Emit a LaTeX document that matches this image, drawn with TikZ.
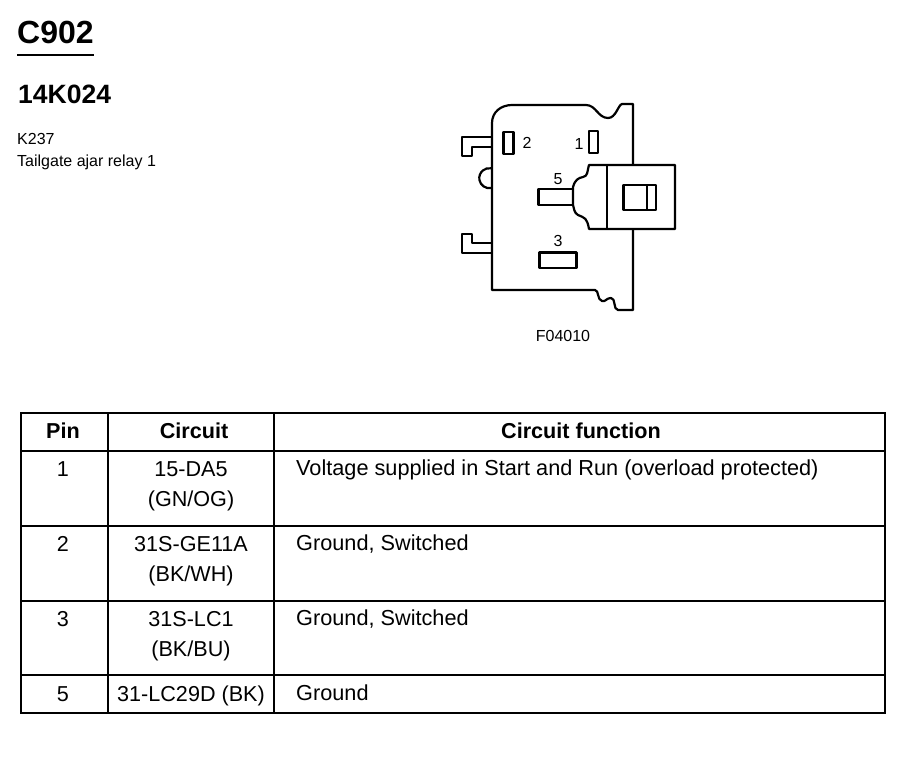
\documentclass[tikz,border=0pt]{standalone}
\usepackage{fontspec}
\setmainfont{Liberation Sans}
\begin{document}
\begin{tikzpicture}[x=1pt, y=-1pt,
    every node/.style={inner sep=0pt, text=black},
    title/.style={anchor=base west, font=\bfseries\fontsize{32}{32}\selectfont},
    subtitle/.style={anchor=base west, font=\bfseries\fontsize{26.5}{26.5}\selectfont},
    small/.style={anchor=base west, font=\fontsize{16}{16}\selectfont},
    pinlabel/.style={anchor=base, font=\fontsize{16}{16}\selectfont},
    head/.style={anchor=base, font=\bfseries\fontsize{21.6}{21.6}\selectfont},
    cell/.style={anchor=base, font=\fontsize{21.6}{21.6}\selectfont},
    func/.style={anchor=base west, font=\fontsize{21.7}{21.7}\selectfont},
    rule/.style={line width=2pt, line cap=rect},
    part/.style={line width=2.2pt, line join=round}]
  \useasboundingbox (0,0) rectangle (902,768);
  \node [title] (c902) at (17,44) {C902};
  \node [subtitle] (part) at (18,103) {14K024};
  \node [small] (k237) at (17,144) {K237};
  \node [small] (relay) at (17,166) {Tailgate ajar relay 1};
  \draw [line width=1.2pt] (17,55) -- (94,55);
  \draw [part] (633,165) -- (633,104) -- (622,104) .. controls (618,105) and (616,118) .. (608,118)
     .. controls (598,118) and (596,105) .. (586,105) -- (512,105) .. controls (501,105) and (492,112) .. (492,123)
     -- (492,290) -- (595,290) .. controls (599,290) and (597,300) .. (602,301)
     .. controls (606,302) and (606,298) .. (611,298) .. controls (616,298) and (613,310) .. (618,310)
     -- (633,310) -- (633,229);
  \draw [part] (491,137) -- (462,137) -- (462,156) -- (472,156) -- (472,147) -- (491,147);
  \draw [part] (491,243) -- (472,243) -- (472,234) -- (462,234) -- (462,253) -- (491,253);
  \draw [part] (491,188) arc [start angle=80, end angle=280, radius=10];
  \draw [part] (589,165) -- (675,165) -- (675,229) -- (589,229) .. controls (587,218) and (585,218) .. (578,215)
     .. controls (574,213) and (574,208) .. (573,205) -- (573,187) .. controls (575,180) and (578,178) .. (583,177)
     .. controls (588,176) and (587,172) .. (589,165) -- cycle;
  \draw [part] (607,165) -- (607,229);
  \draw [part] (538.5,189) rectangle (573,205);
  \draw [part] (623.5,185) rectangle (656,210);
  \draw [part] (647,185) -- (647,210);
  \draw [part] (503.5,132) rectangle (513.5,154);
  \draw [part] (589,131) rectangle (598,153);
  \draw [part] (539.5,252.5) rectangle (576.5,268);
  \node [pinlabel] (pin2) at (527,148) {2};
  \node [pinlabel] (pin1) at (579,149) {1};
  \node [pinlabel] (pin5) at (558,184) {5};
  \node [pinlabel] (pin3) at (558,246) {3};
  \node [small, anchor=base] (fig) at (563,341) {F04010};
  \draw [rule] (21,413) rectangle (885,713);
  \draw [rule] (108,413) -- (108,713);
  \draw [rule] (274,413) -- (274,713);
  \draw [rule] (21,451) -- (885,451);
  \draw [rule] (21,526) -- (885,526);
  \draw [rule] (21,601) -- (885,601);
  \draw [rule] (21,675) -- (885,675);
  \node [head] (hpin) at (63,438) {Pin};
  \node [head] (hcircuit) at (194,438) {Circuit};
  \node [head] (hfunc) at (581,438) {Circuit function};
  \node [cell] (p1) at (63,476) {1};
  \node [cell] (c1a) at (191,476) {15-DA5};
  \node [cell] (c1b) at (191,506) {(GN/OG)};
  \node [func] (f1) at (296,475) {Voltage supplied in Start and Run (overload protected)};
  \node [cell] (p2) at (63,551) {2};
  \node [cell] (c2a) at (191,551) {31S-GE11A};
  \node [cell] (c2b) at (191,581) {(BK/WH)};
  \node [func] (f2) at (296,550) {Ground, Switched};
  \node [cell] (p3) at (63,626) {3};
  \node [cell] (c3a) at (191,626) {31S-LC1};
  \node [cell] (c3b) at (191,656) {(BK/BU)};
  \node [func] (f3) at (296,625) {Ground, Switched};
  \node [cell] (p5) at (63,701) {5};
  \node [cell] (c5) at (191,701) {31-LC29D (BK)};
  \node [func] (f5) at (296,700) {Ground};
\end{tikzpicture}
\end{document}
